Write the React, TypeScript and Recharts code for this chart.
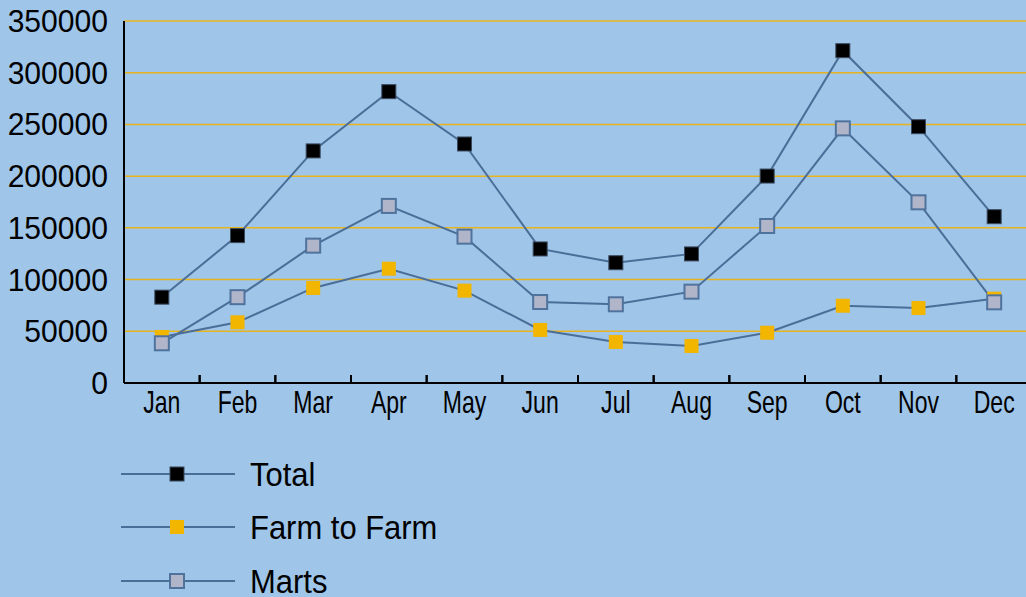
import React from 'react';
import { LineChart, Line, XAxis, YAxis, CartesianGrid, Legend } from 'recharts';

const months = ['Jan', 'Feb', 'Mar', 'Apr', 'May', 'Jun', 'Jul', 'Aug', 'Sep', 'Oct', 'Nov', 'Dec'];
const total = [83000, 142500, 224400, 281700, 231100, 129600, 116300, 124800, 200100, 321300, 247800, 160800];
const farmToFarm = [44500, 58700, 91900, 110500, 89300, 51300, 39700, 35800, 48600, 74700, 72500, 81500];
const marts = [38400, 83000, 132800, 171200, 141500, 78300, 76100, 88300, 151800, 246200, 174700, 78000];
const yTicks = [0, 50000, 100000, 150000, 200000, 250000, 300000, 350000];
const seriesNames = ['Total', 'Farm to Farm', 'Marts'];

const data = months.map((m, i) => ({ month: m, total: total[i], farm: farmToFarm[i], marts: marts[i] }));

const BG = '#9FC5E8';
const LINE = '#4A6E98';
const GRID = '#E8B41E';
const FONT = '"Liberation Sans", Arial, sans-serif';
const HALF_BAND = 37.83;

const markerStyles: Record<string, { fill: string; stroke: string; sw: number }> = {
  Total: { fill: '#000000', stroke: '#3A4A5E', sw: 1 },
  'Farm to Farm': { fill: '#F2B500', stroke: 'none', sw: 0 },
  Marts: { fill: '#B1B5CA', stroke: '#50739E', sw: 2 },
};

const makeDot = (name: string) => (props: any) => {
  const { cx, cy, index } = props;
  if (cx == null || cy == null) return <g key={index} />;
  const s = markerStyles[name];
  const size = 14;
  return (
    <rect
      key={`${name}-${index}`}
      x={cx - size / 2}
      y={cy - size / 2}
      width={size}
      height={size}
      fill={s.fill}
      stroke={s.stroke}
      strokeWidth={s.sw}
    />
  );
};

const XTick = (props: any) => {
  const { x, y, payload } = props;
  return (
    <g>
      <line x1={x - HALF_BAND} x2={x - HALF_BAND} y1={y - 8} y2={y} stroke="#000" strokeWidth={2} />
      <line x1={x + HALF_BAND} x2={x + HALF_BAND} y1={y - 8} y2={y} stroke="#000" strokeWidth={2} />
      <text
        transform={`translate(${x},${y + 30}) scale(0.72,1)`}
        textAnchor="middle"
        fontFamily={FONT}
        fontSize={32}
        fill="#000"
      >
        {payload.value}
      </text>
    </g>
  );
};

const YTick = (props: any) => {
  const { x, y, payload } = props;
  return (
    <text
      transform={`translate(${x},${y + 11}) scale(0.94,1)`}
      textAnchor="end"
      fontFamily={FONT}
      fontSize={32}
      fill="#000"
    >
      {payload.value}
    </text>
  );
};

const LegendContent = (props: any) => {
  const payload = [...(props.payload || [])].sort(
    (a: any, b: any) => seriesNames.indexOf(a.value) - seriesNames.indexOf(b.value)
  );
  return (
    <div style={{ display: 'flex', flexDirection: 'column' }}>
      {payload.map((entry: any) => {
        const s = markerStyles[entry.value];
        return (
          <div key={entry.value} style={{ display: 'flex', alignItems: 'center', height: 53.5 }}>
            <svg width={116} height={20} style={{ display: 'block' }}>
              <line x1={1} x2={115} y1={10} y2={10} stroke={LINE} strokeWidth={2} />
              <rect x={57 - 7} y={3} width={14} height={14} fill={s.fill} stroke={s.stroke} strokeWidth={s.sw} />
            </svg>
            <span
              style={{
                marginLeft: 14,
                fontFamily: FONT,
                fontSize: 34,
                color: '#000',
                display: 'inline-block',
                transform: 'scale(0.91,1)',
                transformOrigin: 'left center',
                whiteSpace: 'nowrap',
                lineHeight: '34px',
              }}
            >
              {entry.value}
            </span>
          </div>
        );
      })}
    </div>
  );
};

export default function App() {
  return (
    <div
      style={{
        position: 'absolute',
        left: 0,
        top: 0,
        width: 1026,
        height: 597,
        overflow: 'hidden',
        background: BG,
      }}
    >
      <LineChart
        width={1040}
        height={597}
        data={data}
        margin={{ top: 21, right: 8, left: 0, bottom: 174 }}
        style={{ background: BG }}
      >
        <CartesianGrid vertical={false} stroke={GRID} strokeWidth={1.5} />
        <XAxis
          dataKey="month"
          height={40}
          padding={{ left: HALF_BAND, right: HALF_BAND }}
          axisLine={{ stroke: '#000', strokeWidth: 2 }}
          tickLine={false}
          tickSize={0}
          tickMargin={0}
          interval={0}
          tick={<XTick />}
        />
        <YAxis
          width={124}
          domain={[0, 350000]}
          ticks={yTicks}
          interval={0}
          axisLine={{ stroke: '#000', strokeWidth: 2 }}
          tickLine={false}
          tickSize={0}
          tickMargin={16}
          tick={<YTick />}
        />
        <Legend
          layout="vertical"
          align="center"
          verticalAlign="middle"
          wrapperStyle={{ left: 120, top: 447, width: 400 }}
          content={<LegendContent />}
        />
        <Line
          dataKey="total"
          name="Total"
          stroke={LINE}
          strokeWidth={2}
          dot={makeDot('Total')}
          activeDot={false}
          isAnimationActive={false}
        />
        <Line
          dataKey="farm"
          name="Farm to Farm"
          stroke={LINE}
          strokeWidth={2}
          dot={makeDot('Farm to Farm')}
          activeDot={false}
          isAnimationActive={false}
        />
        <Line
          dataKey="marts"
          name="Marts"
          stroke={LINE}
          strokeWidth={2}
          dot={makeDot('Marts')}
          activeDot={false}
          isAnimationActive={false}
        />
      </LineChart>
    </div>
  );
}
